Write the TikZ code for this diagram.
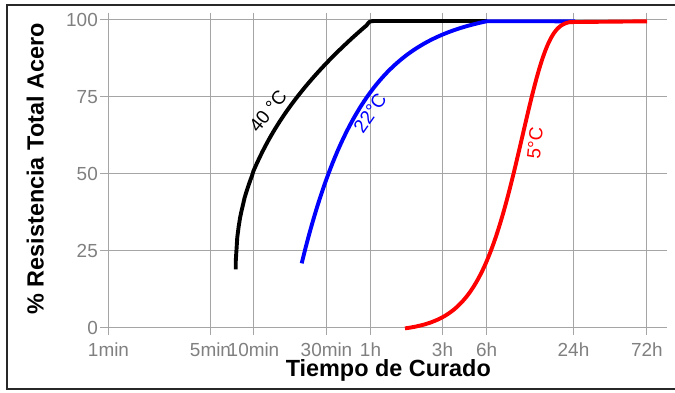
\documentclass[tikz,border=0pt]{standalone}
\usepackage{fontspec}
\setmainfont{Liberation Sans}
\definecolor{gridgray}{RGB}{165,165,165}
\definecolor{tickgray}{RGB}{128,128,128}
\definecolor{frame}{RGB}{40,40,40}
\begin{document}
\begin{tikzpicture}[x=1bp,y=-1bp,
  gridline/.style={draw=gridgray,line width=1bp},
  ticklab/.style={text=tickgray,inner sep=0pt,font=\fontsize{19}{19}\selectfont},
  axtitle/.style={inner sep=0pt,font=\fontsize{23.5}{23.5}\selectfont\bfseries},
  curve/.style={line width=3.9bp,line join=round},
  curvelab/.style={inner sep=0pt,font=\fontsize{19}{19}\selectfont}]
\useasboundingbox (0,0) rectangle (675,392);
\fill[white] (0,0) rectangle (675,392);
% frame
\draw[frame,line width=1.8bp] (676,5) -- (7.2,5) -- (7.2,389.3) -- (676,389.3);
% horizontal grid
\foreach \yy/\lab in {19.5/100,96.5/75,173.5/50,250.5/25,327.5/0}{
  \draw[gridline] (100,\yy) -- (666.7,\yy);
  \node[ticklab,anchor=base east] (yl\lab) at (98,\yy+6.8) {\lab};
}
% vertical grid
\foreach \xx/\lab/\nm in {108.5/1min/a,210.5/5min/b,253.5/10min/c,326.5/30min/d,370.5/1h/e,442.5/3h/f,486.7/6h/g,573.5/24h/h,646.8/72h/i}{
  \draw[gridline] (\xx,12.7) -- (\xx,335);
  \node[ticklab,anchor=base] (xl\nm) at (\xx,356.5) {\lab};
}
% axis titles
\node[axtitle,anchor=base] (xtitle) at (388.3,376.7) {Tiempo de Curado};
\node[axtitle,anchor=base,rotate=90] (ytitle) at (43.5,169) {\% Resistencia Total Acero};
% curves
\draw[curve,black] (235.7,269.3) -- plot[domain=235.8:366.7,samples=90,variable=\t] (\t,{269.3-248.3*(((\t-235.7)/136)^0.46)}) .. controls (369.5,21.3) .. (374,21) -- (487,21);
\draw[curve,blue] plot[domain=301.7:486.7,samples=90,variable=\t] (\t,{263.3-242*(1-exp(-3*(\t-301.7)/185))/0.9502}) -- (575,21.3);
\draw[curve,red] plot[domain=405:570,samples=90,variable=\t] (\t,{328.3-310.66*(0.9882-exp(-exp(0.0377*(\t-442.7)-3.01)))}) -- (647,21.3);
% curve labels
\node[curvelab,text=black,rotate=51] (l40) at (268,111) {40 °C};
\node[curvelab,text=blue,rotate=55] (l22) at (370,113) {22°C};
\node[curvelab,text=red,rotate=84] (l5) at (535,143) {5°C};
\end{tikzpicture}
\end{document}
